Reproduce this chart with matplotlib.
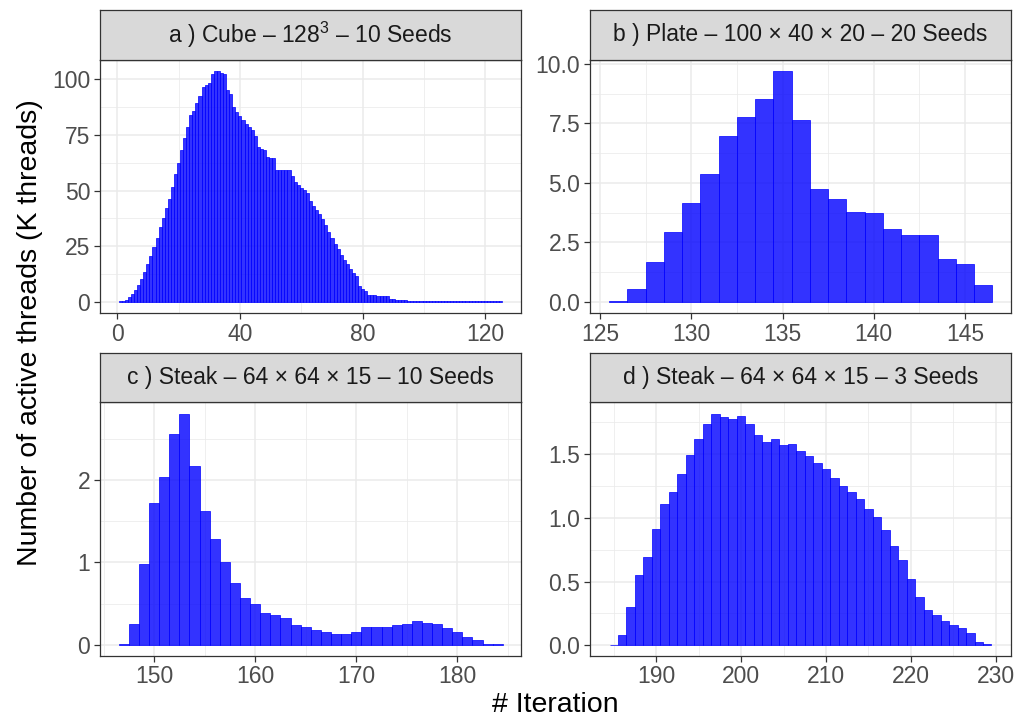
import matplotlib
matplotlib.use("Agg")
import matplotlib.pyplot as plt
from matplotlib.ticker import FixedLocator, FormatStrFormatter

plt.rcParams['font.family'] = ['Liberation Sans', 'DejaVu Sans']
plt.rcParams['mathtext.fontset'] = 'custom'
plt.rcParams['mathtext.rm'] = 'Liberation Sans'

# a) Cube - iterations 1..125
cube_iter = list(range(1, 126))
cube_k = [0.1, 0.4, 0.75, 2.1, 3.3, 5.2, 7.5, 10.2, 13.3, 16.9,
          20.5, 24.6, 28.6, 33.6, 37.6, 42.1, 46.2, 51.6, 57.4, 62.4,
          68.2, 73.6, 78.6, 84.0, 85.8, 89.4, 92.5, 96.6, 97.5, 98.4,
          102.4, 103.7, 103.7, 102.8, 102.4, 95.2, 93.4, 87.6, 85.3, 83.5,
          81.7, 79.9, 78.6, 77.2, 74.5, 69.6, 68.7, 68.2, 65.1, 64.6,
          64.6, 59.2, 59.2, 59.2, 59.2, 59.2, 56.5, 53.8, 52.5, 51.1,
          50.2, 48.9, 45.3, 43.0, 41.2, 39.4, 37.2, 34.5, 31.3, 28.6,
          25.9, 23.7, 21.0, 18.7, 16.9, 14.7, 12.9, 11.5, 7.1, 5.7,
          4.6, 3.0, 3.0, 3.0, 2.5, 2.5, 2.5, 2.5, 1.2, 1.2,
          0.75, 0.75, 0.75, 0.75, 0.3, 0.3, 0.3, 0.3, 0.15, 0.15,
          0.15, 0.15, 0.15, 0.15, 0.15, 0.15, 0.15, 0.15, 0.15, 0.15,
          0.15, 0.15, 0.15, 0.15, 0.15, 0.15, 0.15, 0.15, 0.15, 0.15,
          0.15, 0.15, 0.15, 0.15, 0.15]

# b) Plate - iterations 126..146
plate_iter = list(range(126, 147))
plate_k = [0.05, 0.53, 1.67, 2.93, 4.15, 5.36, 6.96, 7.76, 8.52, 9.69,
           7.63, 4.73, 4.31, 3.77, 3.73, 3.05, 2.80, 2.80, 1.79, 1.58, 0.70]

# c) Steak, 10 seeds - iterations 147..184
steak10_iter = list(range(147, 185))
steak10_k = [0.01, 0.255, 0.98, 1.72, 2.04, 2.56, 2.81, 2.17, 1.62, 1.28,
             1.00, 0.75, 0.57, 0.49, 0.39, 0.36, 0.33, 0.24, 0.22, 0.18,
             0.16, 0.13, 0.13, 0.16, 0.22, 0.22, 0.22, 0.24, 0.255, 0.29,
             0.27, 0.255, 0.21, 0.15, 0.10, 0.06, 0.012, 0.005]

# d) Steak, 3 seeds - iterations 185..229
steak3_iter = list(range(185, 230))
steak3_k = [0.005, 0.08, 0.30, 0.55, 0.69, 0.91, 1.11, 1.20, 1.34, 1.49,
            1.62, 1.73, 1.81, 1.79, 1.77, 1.80, 1.73, 1.65, 1.59, 1.62,
            1.57, 1.58, 1.52, 1.48, 1.43, 1.38, 1.31, 1.25, 1.20, 1.15,
            1.07, 1.005, 0.90, 0.78, 0.67, 0.52, 0.38, 0.28, 0.24, 0.19,
            0.16, 0.14, 0.094, 0.03, 0.008]

titles = ['a ) Cube – 128$\\mathregular{^3}$ – 10 Seeds',
          'b ) Plate – 100 × 40 × 20 – 20 Seeds',
          'c ) Steak – 64 × 64 × 15 – 10 Seeds',
          'd ) Steak – 64 × 64 × 15 – 3 Seeds']

W, H = 1020, 719
fig = plt.figure(figsize=(W / 100, H / 100), dpi=100)

GRID = '#EBEBEB'
BORDER = '#333333'
SMALL = 16.5
BIG = 20.5


def rect(x0, y0, x1, y1):
    # pixel box (top-left origin) -> figure fraction
    return [x0 / W, 1 - y1 / H, (x1 - x0) / W, (y1 - y0) / H]


def panel(box, strip, x, y, title, xlim, ylim, xmaj, xmin, ymaj, ymin, yfmt):
    ax = fig.add_axes(rect(*box))
    ax.set_axisbelow(True)
    ax.bar(x, y, width=1.0, color=(0, 0, 1, 0.8), edgecolor='blue', linewidth=0.5)
    ax.set_xlim(*xlim)
    ax.set_ylim(*ylim)
    ax.xaxis.set_major_locator(FixedLocator(xmaj))
    ax.xaxis.set_minor_locator(FixedLocator(xmin))
    ax.yaxis.set_major_locator(FixedLocator(ymaj))
    ax.yaxis.set_minor_locator(FixedLocator(ymin))
    ax.yaxis.set_major_formatter(FormatStrFormatter(yfmt))
    ax.grid(which='major', color=GRID, linewidth=1.1)
    ax.grid(which='minor', color=GRID, linewidth=0.55)
    ax.tick_params(which='major', length=4, width=0.9, color=BORDER,
                   labelsize=SMALL, labelcolor='#4D4D4D', pad=3)
    ax.tick_params(which='minor', length=0)
    for s in ax.spines.values():
        s.set_color(BORDER)
        s.set_linewidth(0.9)
    sx = fig.add_axes(rect(*strip))
    sx.set_facecolor('#D9D9D9')
    sx.set_xticks([])
    sx.set_yticks([])
    for s in sx.spines.values():
        s.set_color(BORDER)
        s.set_linewidth(0.9)
    sx.text(0.5, 0.5, title, ha='center', va='center', fontsize=SMALL,
            color='#1A1A1A', transform=sx.transAxes)
    return ax


panel((100, 60, 521, 313), (100, 9.5, 521, 60), cube_iter, cube_k, titles[0],
      (-5.6, 131.6), (-5.1, 108.7), [0, 40, 80, 120], [20, 60, 100],
      [0, 25, 50, 75, 100], [12.5, 37.5, 62.5, 87.5], '%d')
panel((590, 60, 1011, 313), (590, 9.5, 1011, 60), plate_iter, plate_k, titles[1],
      (124.45, 147.52), (-0.47, 10.16), [125, 130, 135, 140, 145],
      [127.5, 132.5, 137.5, 142.5, 147.5],
      [0, 2.5, 5, 7.5, 10], [1.25, 3.75, 6.25, 8.75], '%.1f')
panel((100, 402, 521, 655.5), (100, 353, 521, 402), steak10_iter, steak10_k, titles[2],
      (144.65, 186.3), (-0.13, 2.95), [150, 160, 170, 180], [145, 155, 165, 175, 185],
      [0, 1, 2], [0.5, 1.5, 2.5], '%d')
panel((590, 402, 1011, 655.5), (590, 353, 1011, 402), steak3_iter, steak3_k, titles[3],
      (182.2, 231.8), (-0.079, 1.906), [190, 200, 210, 220, 230],
      [185, 195, 205, 215, 225],
      [0, 0.5, 1.0, 1.5], [0.25, 0.75, 1.25, 1.75], '%.1f')

fig.text(30 / W, 1 - 333 / H, 'Number of active threads (K threads)', rotation=90,
         ha='center', va='center', fontsize=BIG, color='black')
fig.text(555.5 / W, 1 - 705 / H, '# Iteration', ha='center', va='center',
         fontsize=BIG, color='black')

fig.savefig('out.png', dpi=100)
